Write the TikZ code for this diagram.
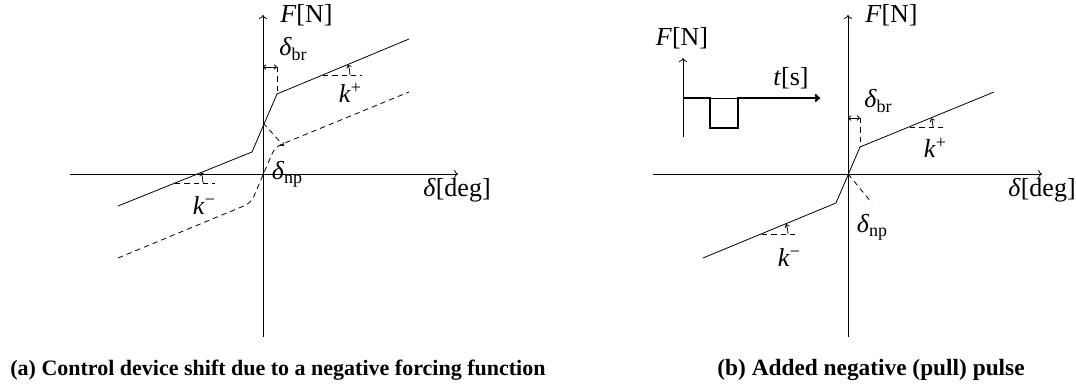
\documentclass[tikz,border=0pt]{standalone}
\usepackage{fontspec}
\setmainfont{Liberation Serif}
\usetikzlibrary{arrows.meta}
\newcommand{\lsub}[1]{\raisebox{-0.35ex}{\fontsize{13.5}{13.5}\selectfont #1}}
\newcommand{\lsup}[1]{\raisebox{0.75ex}{\fontsize{13.5}{13.5}\selectfont #1}}
\begin{document}
\begin{tikzpicture}[x=0.75pt,y=-0.75pt, line width=0.6pt,
  lbl/.style={font=\fontsize{19.5}{19.5}\selectfont, inner sep=0pt},
  captxt/.style={font=\bfseries\fontsize{17.5}{17.5}\selectfont, inner sep=0pt, anchor=base west},
  dsh/.style={dash pattern=on 4pt off 3pt},
  tip/.style={-{To[length=2.5pt,width=4pt]}},
  dtip/.style={{To[length=2.5pt,width=4pt]}-{To[length=2.5pt,width=4pt]}}]
\useasboundingbox (0,0) rectangle (1076,385);

% ---------- panel (a) ----------
\begin{scope}[shift={(263,174)}]
  \coordinate (aL) at (-193,0); \coordinate (aR) at (195,0);
  \coordinate (aB) at (0,163);  \coordinate (aT) at (0,-159);
  \draw[->] (aL) -- (aR);
  \draw[->] (aB) -- (aT);
  % solid characteristic
  \coordinate (s1) at (-145,32); \coordinate (s2) at (-11,-22);
  \coordinate (s3) at (14,-80);  \coordinate (s4) at (146,-135);
  \draw (s1) -- (s2) -- (s3) -- (s4);
  % shifted dashed characteristic
  \coordinate (d1) at (-145,84); \coordinate (d2) at (-12,29);
  \coordinate (d3) at (12,-27);  \coordinate (d4) at (146,-82);
  \draw[dsh, rounded corners=5] (d1) -- (d2) -- (d3) -- (d4);
  % delta_br
  \coordinate (brA) at (0,-107); \coordinate (brB) at (14,-107);
  \coordinate (axC) at (0,-51);
  \draw[dsh] (brA) -- (axC);
  \draw[dsh] (brB) -- (s3);
  \draw[dtip] (brA) -- (brB);
  % delta_np
  \coordinate (npE) at (21,-28);
  \draw[dsh, tip] (axC) -- (npE);
  % k+
  \coordinate (kpA) at (60,-99); \coordinate (kpB) at (99,-99);
  \draw[dsh] (kpA) -- (kpB);
  \draw[tip] (kpA) ++(27,0) arc[start angle=0, end angle=-22.6, radius=27];
  % k-
  \coordinate (kmA) at (-88,9); \coordinate (kmB) at (-48,9);
  \draw[dsh] (kmA) -- (kmB);
  \draw[tip] (kmA) ++(28,0) arc[start angle=0, end angle=-22, radius=28];
  % labels
  \node[lbl, anchor=west] (aF) at (17,-159) {\textit{F}[N]};
  \node[lbl, anchor=west] (aD) at (160,16) {\textit{δ}[deg]};
  \node[lbl] (abr) at (30,-125) {\textit{δ}\lsub{br}};
  \node[lbl] (anp) at (24,0) {\textit{δ}\lsub{np}};
  \node[lbl] (akp) at (87,-81) {\textit{k}\lsup{+}};
  \node[lbl] (akm) at (-59,31) {\textit{k}\lsup{−}};
\end{scope}

% ---------- panel (b) ----------
\begin{scope}[shift={(848,174)}]
  \coordinate (bL) at (-195,0); \coordinate (bR) at (194,0);
  \coordinate (bB) at (0,163);  \coordinate (bT) at (0,-159);
  \draw[->] (bL) -- (bR);
  \draw[->] (bB) -- (bT);
  \coordinate (t1) at (-145,84); \coordinate (t2) at (-12,29);
  \coordinate (t3) at (12,-27);  \coordinate (t4) at (146,-82);
  \draw (t1) -- (t2) -- (t3) -- (t4);
  % delta_br
  \coordinate (bbrA) at (0,-56); \coordinate (bbrB) at (12,-56);
  \coordinate (bO) at (0,0);
  \draw[dsh] (bbrA) -- (bO);
  \draw[dsh] (bbrB) -- (t3);
  \draw[dtip] (bbrA) -- (bbrB);
  % delta_np
  \coordinate (bnpE) at (24,29);
  \draw[dsh] (bO) -- (bnpE);
  % k+
  \coordinate (bkpA) at (62,-47); \coordinate (bkpB) at (97,-47);
  \draw[dsh] (bkpA) -- (bkpB);
  \draw[tip] (bkpA) ++(23,0) arc[start angle=0, end angle=-22.3, radius=23];
  % k-
  \coordinate (bkmA) at (-86,60); \coordinate (bkmB) at (-49,60);
  \draw[dsh] (bkmA) -- (bkmB);
  \draw[tip] (bkmA) ++(26,0) arc[start angle=0, end angle=-22.3, radius=26];
  % labels
  \node[lbl, anchor=west] (bF) at (17,-159) {\textit{F}[N]};
  \node[lbl, anchor=west] (bD) at (160,16) {\textit{δ}[deg]};
  \node[lbl] (bbr) at (30,-73) {\textit{δ}\lsub{br}};
  \node[lbl] (bnp) at (24,53) {\textit{δ}\lsub{np}};
  \node[lbl] (bkp) at (87,-26) {\textit{k}\lsup{+}};
  \node[lbl] (bkm) at (-59,83) {\textit{k}\lsup{−}};
\end{scope}

% ---------- inset pulse ----------
\coordinate (iO) at (683,98); \coordinate (iB) at (683,137);
\coordinate (iT) at (683,58); \coordinate (iR) at (820,98);
\draw[->] (iB) -- (iT);
\draw (iO) -- (iR);
\draw[line width=1.8pt, -{To[length=4pt,width=6pt]}] (iO) -- (710,98) -- (710,128) -- (738,128) -- (738,98) -- (iR);
\node[lbl] (iF) at (682,38) {\textit{F}[N]};
\node[lbl] (it) at (791,78) {\textit{t}[s]};

% ---------- captions ----------
\node[captxt, font=\bfseries\fontsize{16.5}{16.5}\selectfont] (capa) at (10,375) {(a) Control device shift due to a negative forcing function};
\node[captxt] (capb) at (717,375) {(b) Added negative (pull) pulse};
\end{tikzpicture}
\end{document}
